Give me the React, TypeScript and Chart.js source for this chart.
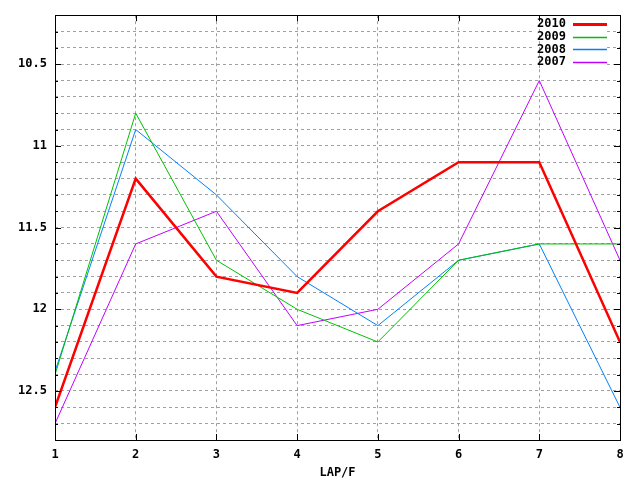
import React, { useEffect, useRef } from "react";
import { Chart, registerables } from "chart.js";

Chart.register(...registerables);

const laps = [1, 2, 3, 4, 5, 6, 7, 8];
const series2010 = [12.6, 11.2, 11.8, 11.9, 11.4, 11.1, 11.1, 12.2];
const series2009 = [12.4, 10.8, 11.7, 12.0, 12.2, 11.7, 11.6, 11.6];
const series2008 = [12.38, 10.9, 11.3, 11.8, 12.1, 11.7, 11.6, 12.6];
const series2007 = [12.7, 11.6, 11.4, 12.1, 12.0, 11.6, 10.6, 11.7];
const seriesNames = ["2010", "2009", "2008", "2007"];
const seriesColors = ["#ff0000", "#00c000", "#0080ff", "#c000ff"];
const seriesWidths = [2.5, 1, 1, 1];
const xTitle = "LAP/F";

const FONT = "DejaVu Sans Mono";

const boxPlugin = {
  id: "boxPlugin",
  afterDraw(chart: any) {
    const ctx = chart.ctx;
    const { left, right, top, bottom } = chart.chartArea;
    const ys = chart.scales.y;
    const xs = chart.scales.x;
    ctx.save();

    // legend background: blanks the horizontal grid lines behind the key
    ctx.fillStyle = "#fff";
    ctx.fillRect(535, 17, 72, 52);
    const gx = Math.round(xs.getPixelForValue(7)) + 0.5;
    ctx.strokeStyle = "#a0a0a0";
    ctx.lineWidth = 1;
    ctx.setLineDash([3, 3]);
    ctx.beginPath();
    ctx.moveTo(gx, 17);
    ctx.lineTo(gx, 69);
    ctx.stroke();

    ctx.strokeStyle = "#000";
    ctx.lineWidth = 1;
    ctx.setLineDash([]);
    ctx.beginPath();
    ys.ticks.forEach((t: any) => {
      const py = Math.round(ys.getPixelForValue(t.value)) + 0.5;
      const major = Math.abs(t.value * 2 - Math.round(t.value * 2)) < 1e-6;
      const len = major ? 6 : 3;
      ctx.moveTo(left, py);
      ctx.lineTo(left + len, py);
      ctx.moveTo(right, py);
      ctx.lineTo(right - len, py);
    });
    xs.ticks.forEach((t: any) => {
      const px = Math.round(xs.getPixelForValue(t.value)) + 0.5;
      ctx.moveTo(px, bottom);
      ctx.lineTo(px, bottom - 6);
      ctx.moveTo(px, top);
      ctx.lineTo(px, top + 6);
    });
    ctx.stroke();
    ctx.strokeRect(Math.round(left) + 0.5, Math.round(top) + 0.5, Math.round(right - left), Math.round(bottom - top));

    // legend
    ctx.font = `bold 12px ${FONT}`;
    ctx.textAlign = "right";
    ctx.textBaseline = "middle";
    seriesNames.forEach((name, i) => {
      const y = 24 + i * 12.7;
      ctx.fillStyle = "#000";
      ctx.fillText(name, 566, y);
      ctx.beginPath();
      ctx.strokeStyle = seriesColors[i];
      ctx.lineWidth = i === 0 ? 3 : 1.5;
      ctx.moveTo(573, Math.round(y) + 0.5);
      ctx.lineTo(607, Math.round(y) + 0.5);
      ctx.stroke();
    });
    ctx.restore();
  },
};

export default function App() {
  const ref = useRef<HTMLCanvasElement>(null);
  useEffect(() => {
    if (!ref.current) return;
    const all = [series2010, series2009, series2008, series2007];
    const tickFont = { family: FONT, size: 12, weight: "bold" as const };
    const chart = new Chart(ref.current, {
      type: "line",
      data: {
        datasets: all.map((s, i) => ({
          label: seriesNames[i],
          data: laps.map((x, j) => ({ x, y: s[j] })),
          borderColor: seriesColors[i],
          backgroundColor: seriesColors[i],
          borderWidth: seriesWidths[i],
          pointRadius: 0,
          tension: 0,
          fill: false,
        })),
      },
      options: {
        animation: false,
        responsive: true,
        maintainAspectRatio: false,
        layout: { padding: { top: 13, right: 20, left: 0, bottom: 0 } },
        plugins: { legend: { display: false }, tooltip: { enabled: false } },
        scales: {
          x: {
            type: "linear",
            min: 1,
            max: 8,
            border: { display: false, dash: [3, 3] },
            grid: { color: "#a0a0a0", lineWidth: 1, drawTicks: false },
            ticks: {
              stepSize: 1,
              autoSkip: false,
              padding: 8,
              color: "#000",
              font: tickFont,
              maxRotation: 0,
            },
            title: {
              display: true,
              text: xTitle,
              color: "#000",
              font: tickFont,
              padding: { top: 0, bottom: 0 },
            },
            afterFit: (s: any) => {
              s.height = 40;
            },
          },
          y: {
            type: "linear",
            reverse: true,
            min: 10.2,
            max: 12.8,
            border: { display: false, dash: [3, 3] },
            grid: { color: "#a0a0a0", lineWidth: 1, drawTicks: false },
            ticks: {
              stepSize: 0.1,
              autoSkip: false,
              maxTicksLimit: 100,
              padding: 8,
              color: "#000",
              font: tickFont,
              callback: (v: any) => {
                const n = Number(v);
                if (Math.abs(n * 2 - Math.round(n * 2)) < 1e-6) {
                  return String(Math.round(n * 2) / 2);
                }
                return "";
              },
            },
            afterFit: (s: any) => {
              s.width = 55;
            },
          },
        },
      },
      plugins: [boxPlugin],
    } as any);
    return () => chart.destroy();
  }, []);
  return (
    <div style={{ position: "absolute", left: 0, top: 0, width: 640, height: 480, background: "#fff" }}>
      <canvas ref={ref} />
    </div>
  );
}
